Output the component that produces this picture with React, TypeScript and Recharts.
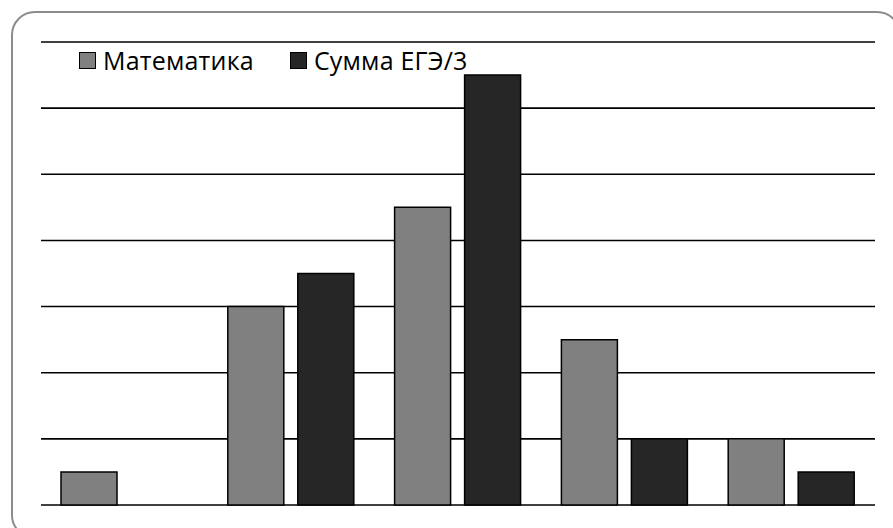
import React from "react";
import { BarChart, Bar, XAxis, YAxis, CartesianGrid } from "recharts";

const categories = ["1", "2", "3", "4", "5"];
const mathValues = [1, 6, 9, 5, 2];
const egeSumValues = [0, 7, 13, 2, 1];
const seriesNames = ["Математика", "Сумма ЕГЭ/3"];
const seriesColors = ["#808080", "#262626"];
const yTicks = [0, 2, 4, 6, 8, 10, 12, 14];

const data = categories.map((c, i) => ({
  name: c,
  math: mathValues[i],
  ege: egeSumValues[i],
}));

const FONT = "'Open Sans', 'Noto Sans', sans-serif";

export default function App() {
  return (
    <div
      style={{
        position: "absolute",
        left: 0,
        top: 0,
        width: 893,
        height: 528,
        background: "#fff",
        overflow: "hidden",
      }}
    >
      <div
        style={{
          position: "absolute",
          left: 11,
          top: 11,
          width: 890,
          height: 528,
          border: "2px solid #8c8c8c",
          borderRadius: 24,
          boxSizing: "border-box",
        }}
      />
      <BarChart
        width={893}
        height={528}
        data={data}
        margin={{ top: 42, right: 18, bottom: 23, left: 41 }}
        barSize={56}
        barGap={14}
      >
        <CartesianGrid
          vertical={false}
          stroke="#000"
          strokeWidth={1.6}
          horizontalValues={yTicks}
        />
        <XAxis dataKey="name" hide />
        <YAxis domain={[0, 14]} ticks={yTicks} hide />
        <Bar
          dataKey="math"
          name={seriesNames[0]}
          fill={seriesColors[0]}
          stroke="#000"
          strokeWidth={1.5}
          isAnimationActive={false}
        />
        <Bar
          dataKey="ege"
          name={seriesNames[1]}
          fill={seriesColors[1]}
          stroke="#000"
          strokeWidth={1.5}
          isAnimationActive={false}
        />
      </BarChart>
      <div
        style={{
          position: "absolute",
          left: 79,
          top: 42,
          display: "flex",
          alignItems: "center",
          fontFamily: FONT,
          fontSize: 25,
          letterSpacing: 0.2,
          lineHeight: "36px",
          color: "#000",
          whiteSpace: "nowrap",
        }}
      >
        {seriesNames.map((n, i) => (
          <div
            key={n}
            style={{ display: "flex", alignItems: "center", marginRight: 36 }}
          >
            <span
              style={{
                display: "inline-block",
                width: 17,
                height: 17,
                background: seriesColors[i],
                border: "1.5px solid #000",
                boxSizing: "border-box",
                marginRight: 7,
              }}
            />
            <span>{n}</span>
          </div>
        ))}
      </div>
    </div>
  );
}
